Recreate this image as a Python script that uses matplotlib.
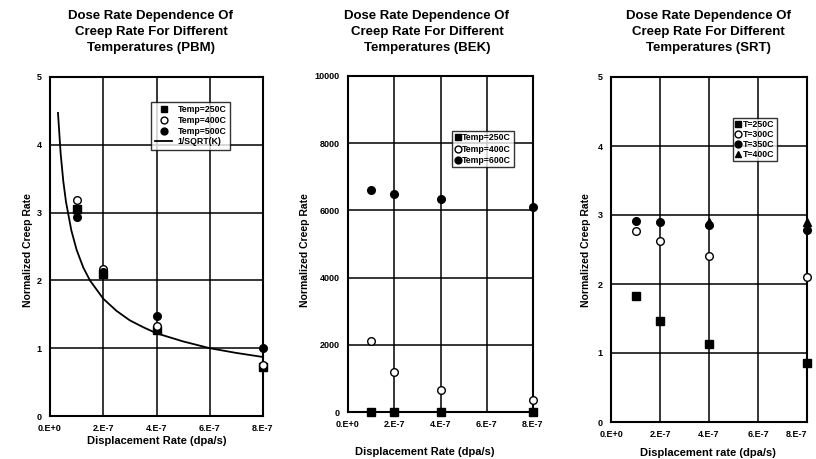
import matplotlib
matplotlib.use("Agg")
import matplotlib.pyplot as plt
from matplotlib.ticker import FixedLocator

plt.rcParams["font.family"] = ["Liberation Sans", "DejaVu Sans"]
plt.rcParams["font.weight"] = "bold"

W, H = 816, 459

# shared x positions (dpa/s)
rates = [1e-7, 2e-7, 4e-7, 8e-7]
x_ticks = [0, 2e-7, 4e-7, 6e-7, 8e-7]
x_labels = ["0.E+0", "2.E-7", "4.E-7", "6.E-7", "8.E-7"]

# PBM panel
pbm_250 = [3.05, 2.10, 1.27, 0.72]
pbm_400 = [3.18, 2.17, 1.33, 0.75]
pbm_500 = [2.93, 2.13, 1.48, 1.00]
fit_x = [0.3e-7, 0.4e-7, 0.5e-7, 0.6e-7, 0.8e-7, 1.0e-7, 1.25e-7, 1.5e-7, 2e-7,
         2.5e-7, 3e-7, 3.5e-7, 4e-7, 5e-7, 6e-7, 7e-7, 8e-7]
fit_y = [4.47, 3.87, 3.46, 3.16, 2.74, 2.45, 2.19, 2.00, 1.73,
         1.55, 1.41, 1.31, 1.22, 1.10, 1.00, 0.93, 0.87]

# BEK panel
bek_250 = [10, 10, 10, 10]
bek_400 = [2100, 1200, 650, 350]
bek_600 = [6600, 6500, 6350, 6100]

# SRT panel
srt_250 = [1.82, 1.47, 1.13, 0.85]
srt_300 = [2.77, 2.62, 2.40, 2.10]
srt_350 = [2.92, 2.90, 2.85, 2.78]
srt_400_x = [4e-7, 8e-7]
srt_400 = [2.90, 2.90]

fig = plt.figure(figsize=(W / 100, H / 100), dpi=100)


def make_axes(l, r, t, b):
    return fig.add_axes([l / W, 1 - b / H, (r - l) / W, (b - t) / H])


def style(ax, ymax, ystep, xlabel, title, title_x, xlab_x, ylab_x, xlab_y):
    ax.set_xlim(0, 8e-7)
    ax.set_ylim(0, ymax)
    ax.xaxis.set_major_locator(FixedLocator(x_ticks))
    ax.set_xticklabels(x_labels)
    yt = [i * ystep for i in range(int(round(ymax / ystep)) + 1)]
    ax.yaxis.set_major_locator(FixedLocator(yt))
    ax.set_yticklabels([f"{v:g}" for v in yt])
    ax.tick_params(length=0, labelsize=6.5, pad=6)
    for lab in ax.get_xticklabels() + ax.get_yticklabels():
        lab.set_fontweight("bold")
    ax.grid(True, color="black", lw=1.1)
    ax.set_axisbelow(True)
    for s in ax.spines.values():
        s.set_linewidth(1.5)
    fig.text(ylab_x / W, 1 - 250 / H, "Normalized Creep Rate", rotation=90,
             ha="center", va="center", fontsize=7.5, fontweight="bold")
    fig.text(xlab_x / W, 1 - xlab_y / H, xlabel, ha="center", va="center",
             fontsize=8, fontweight="bold")
    fig.text(title_x / W, 1 - 32 / H, title, ha="center", va="center",
             fontsize=9.5, fontweight="bold", linespacing=1.4)


mk = dict(ls="none", color="black", ms=5.5, mec="black", clip_on=False, zorder=5)
leg_kw = dict(loc="upper left", fontsize=6.3, frameon=True, fancybox=False,
              edgecolor="black", markerscale=0.9)

# --- PBM ---
ax1 = make_axes(50, 263, 77, 416)
ax1.plot(rates, pbm_250, marker="s", label="Temp=250C", **mk)
ax1.plot(rates, pbm_400, marker="o", mfc="white", label="Temp=400C", **mk)
ax1.plot(rates, pbm_500, marker="o", label="Temp=500C", **mk)
ax1.plot(fit_x, fit_y, color="black", lw=1.3, label="1/SQRT(K)")
style(ax1, 5, 1, "Displacement Rate (dpa/s)",
      "Dose Rate Dependence Of\nCreep Rate For Different\nTemperatures (PBM)",
      151, 157, 28, 441)
leg = ax1.legend(bbox_to_anchor=(0.455, 0.94), borderpad=0.4, handlelength=2.0,
                 labelspacing=0.2, handletextpad=0.6, **leg_kw)
leg.get_frame().set_linewidth(1.0)

# --- BEK ---
ax2 = make_axes(348, 533, 76, 412)
ax2.plot(rates, bek_250, marker="s", label="Temp=250C", **mk)
ax2.plot(rates, bek_400, marker="o", mfc="white", label="Temp=400C", **mk)
ax2.plot(rates, bek_600, marker="o", label="Temp=600C", **mk)
style(ax2, 10000, 2000, "Displacement Rate (dpa/s)",
      "Dose Rate Dependence Of\nCreep Rate For Different\nTemperatures (BEK)",
      427, 425, 305, 452)
leg = ax2.legend(bbox_to_anchor=(0.54, 0.85), borderpad=0.3, handlelength=0.6,
                 labelspacing=0.25, handletextpad=0.2, **leg_kw)
leg.get_frame().set_linewidth(1.0)

# --- SRT ---
ax3 = make_axes(611, 807, 77, 422)
ax3.plot(rates, srt_250, marker="s", label="T=250C", **mk)
ax3.plot(rates, srt_300, marker="o", mfc="white", label="T=300C", **mk)
ax3.plot(rates, srt_350, marker="o", label="T=350C", **mk)
ax3.plot(srt_400_x, srt_400, marker="^", label="T=400C", **mk)
style(ax3, 5, 1, "Displacement rate (dpa/s)",
      "Dose Rate Dependence Of\nCreep Rate For Different\nTemperatures (SRT)",
      708, 708, 586, 453)
ax3.get_xticklabels()[-1].set_horizontalalignment("right")
leg = ax3.legend(bbox_to_anchor=(0.6, 0.895), borderpad=0.3, handlelength=0.6,
                 labelspacing=0.1, handletextpad=0.2, **leg_kw)
leg.get_frame().set_linewidth(1.0)

fig.savefig("out.png", dpi=100)
